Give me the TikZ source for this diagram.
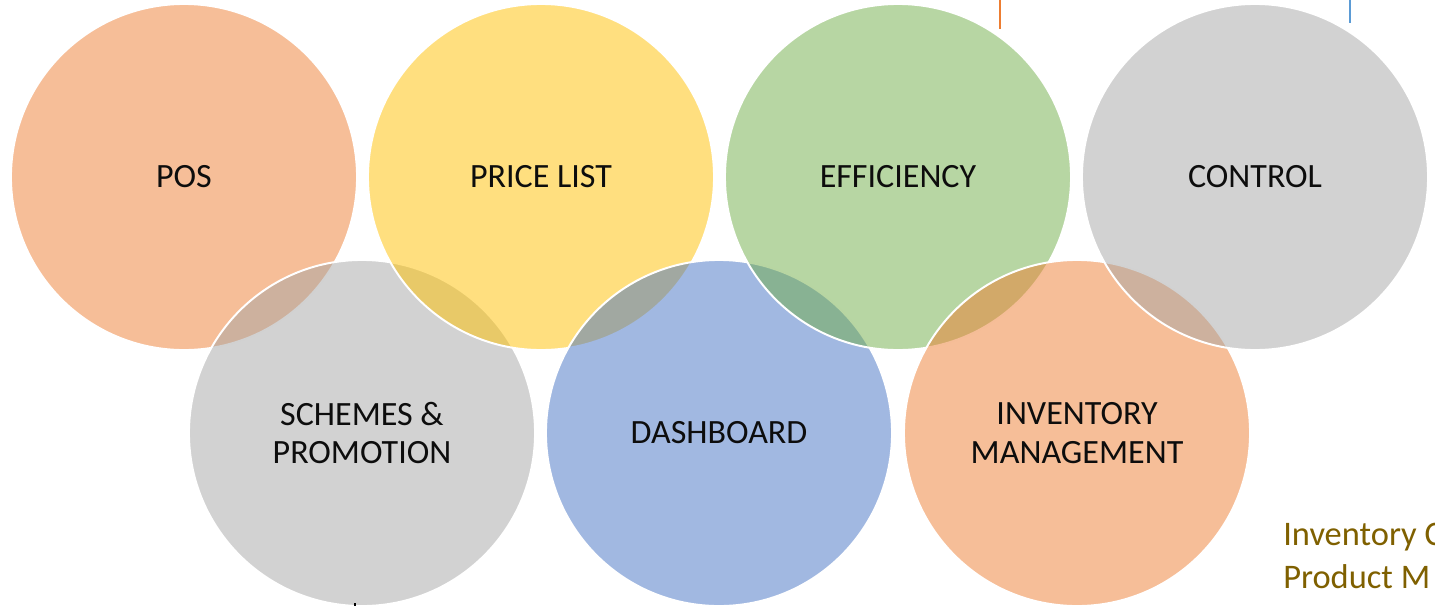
\documentclass[tikz,border=0pt]{standalone}
\usepackage{xcolor}
\usepackage{fontspec}
\setmainfont{Carlito}
\usepackage{tikz}

\definecolor{accentorange}{HTML}{ED7D31}
\definecolor{accentgray}{HTML}{A5A5A5}
\definecolor{accentyellow}{HTML}{FFC000}
\definecolor{accentblue}{HTML}{4472C4}
\definecolor{accentgreen}{HTML}{70AD47}
\definecolor{markblue}{HTML}{5B9BD5}
\definecolor{captionolive}{HTML}{7F6000}

\tikzset{
  bubble/.style={circle, draw=white, line width=1.4pt, fill opacity=0.5,
    text opacity=1, minimum size=8.65cm, inner sep=0pt, align=center,
    text=black!95, font=\fontsize{24.2}{27.6}\selectfont},
  caption/.style={anchor=base west, inner sep=0pt, text=captionolive,
    font=\fontsize{24.5}{30}\selectfont},
  tick/.style={line width=1.4pt}
}

\begin{document}
\begin{tikzpicture}[x=0.025cm, y=-0.025cm]
            \useasboundingbox (0,0) rectangle (1435,606);
            \clip (0,0) rectangle (1435,606);

            % Drawing circle POS
            \node [bubble, fill=accentorange] (pos) at (184,177) {POS};

            % Drawing circle SCHEMES & PROMOTION
            \node [bubble, fill=accentgray] (schemes) at (362,433) {SCHEMES \&\\PROMOTION};

            % Drawing circle PRICE LIST
            \node [bubble, fill=accentyellow] (pricelist) at (541,177) {PRICE LIST};

            % Drawing circle DASHBOARD
            \node [bubble, fill=accentblue] (dashboard) at (719,433) {DASHBOARD};

            % Drawing circle EFFICIENCY
            \node [bubble, fill=accentgreen] (efficiency) at (898,177) {EFFICIENCY};

            % Drawing circle INVENTORY MANAGEMENT
            \node [bubble, fill=accentorange] (inventory) at (1077,433) {INVENTORY\\MANAGEMENT};

            % Drawing circle CONTROL
            \node [bubble, fill=accentgray] (control) at (1255,177) {CONTROL};

            % Marking cut-off ticks
            \coordinate (otop) at (1000,0);
            \coordinate (obot) at (1000,29);
            \coordinate (btop) at (1350,0);
            \coordinate (bbot) at (1350,23);
            \coordinate (ktop) at (355,603);
            \coordinate (kbot) at (355,606);
            \draw [tick, accentorange] (otop) -- (obot);%
            \draw [tick, markblue] (btop) -- (bbot);%
            \draw [tick, black] (ktop) -- (kbot);%

            % Writing cut-off caption
            \node [caption] (capone) at (1283,545) {Inventory C};
            \node [caption] (captwo) at (1283,588) {Product M};
\end{tikzpicture}
\end{document}
